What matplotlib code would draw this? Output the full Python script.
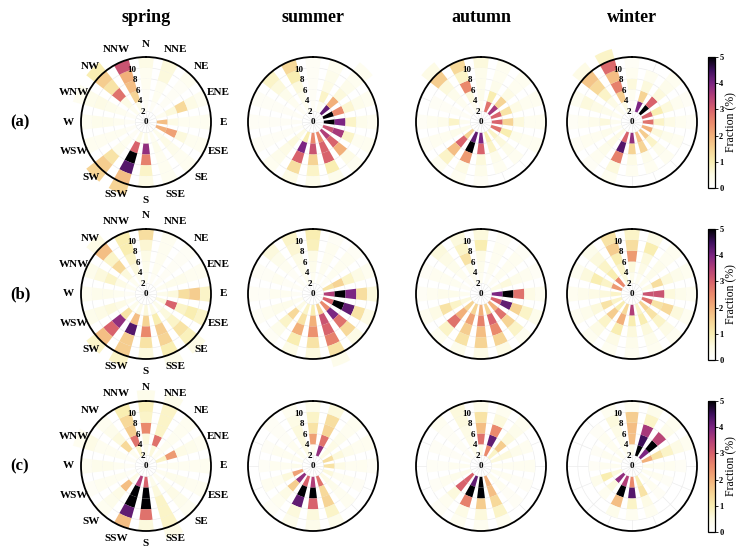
import numpy as np
import matplotlib.pyplot as plt
from matplotlib import colors, cm

plt.rcParams['font.family'] = ['Liberation Serif', 'DejaVu Serif']
plt.rcParams['font.weight'] = 'bold'

seasons = ['spring', 'summer', 'autumn', 'winter']
row_tags = ['(a)', '(b)', '(c)']
directions = ['N', 'NNE', 'NE', 'ENE', 'E', 'ESE', 'SE', 'SSE',
              'S', 'SSW', 'SW', 'WSW', 'W', 'WNW', 'NW', 'NNW']
speed_edges = [0, 2, 4, 6, 8, 10, 12, 14]
r_labels = [0, 2, 4, 6, 8, 10]

# fraction (%) per direction (rows, N clockwise) and speed bin (columns)
spring_a = [
    [0, .2, .2, .3, .3, .5, 0], [0, .2, .3, .3, .6, .6, 0], [0, .1, .2, .2, .2, .3, 0],
    [0, .3, .6, 1.4, .5, .3, 0], [0, 1.8, .5, .3, .3, .3, 0], [0, 2.0, 2.2, .6, .3, .3, 0],
    [0, .4, .5, .4, .3, .3, 0], [0, .3, .4, .3, .3, .3, 0], [0, .4, 3.8, 2.6, .8, .5, 0],
    [0, .5, 3.0, 5.0, 4.3, 1.8, 1.5], [0, .2, .3, .4, 1.2, 1.6, 1.5], [0, .2, .3, .3, .3, .3, 0],
    [0, .2, .3, .4, .4, .3, 0], [0, .2, .3, .4, .5, .4, .3], [0, .3, .5, 2.8, 1.2, 1.6, 1.0],
    [0, .4, 1.5, 1.8, 2.0, 3.2, 0]]
summer_a = [
    [0, .2, .2, .2, .2, .2, 0], [0, .3, .8, .5, .4, .3, 0], [0, 4.2, 2.0, .6, .4, .3, .3],
    [0, 5.0, 2.5, .7, .4, .3, 0], [0, 5.0, 4.0, .8, .4, .3, 0], [0, 3.2, 3.6, .8, .3, .3, 0],
    [0, 3.5, 3.0, 2.0, .5, .3, 0], [0, 2.5, 3.0, 3.0, 1.0, .4, 0], [0, 2.5, 3.2, 1.5, .8, .4, 0],
    [0, 1.0, 4.0, 3.0, 1.3, .5, 0], [0, .5, .6, .5, .4, .3, 0], [0, .2, .2, .2, .2, .2, 0],
    [0, .2, .2, .2, .2, .2, 0], [0, .2, .2, .2, .2, .2, 0], [0, .2, .3, .4, .6, .8, 0],
    [0, .3, .4, .6, 1.0, 1.4, 0]]
autumn_a = [
    [0, .3, .4, .4, .4, .6, 0], [0, 2.8, 1.0, .4, .3, .3, 0], [0, 3.6, 1.5, .5, .3, .3, 0],
    [0, 3.0, 1.2, .5, .3, .3, 0], [0, 3.0, 1.5, .6, .3, .3, 0], [0, 2.8, 1.0, .4, .3, .3, 0],
    [0, .8, .6, .4, .3, 0, 0], [0, 1.0, .8, .4, .3, 0, 0], [0, 4.0, 3.0, .6, .4, .2, 0],
    [0, 4.2, 5.0, 2.3, .5, .3, 0], [0, 1.5, 3.0, 1.8, .8, .3, 0], [0, .4, .4, .3, .3, .2, 0],
    [0, .3, .8, .4, .3, .2, 0], [0, .2, .2, .2, .2, 0, 0], [0, .2, .3, .4, .6, 1.6, .5],
    [0, .3, .6, 2.5, .8, 1.4, 0]]
winter_a = [
    [0, .2, .3, .6, .3, .2, 0], [0, 4.0, 1.5, .6, .3, 0, 0], [0, 5.0, 3.0, .6, .4, .3, 0],
    [0, 3.0, 1.0, .6, .3, .2, 0], [0, 2.8, .8, .5, .3, .2, 0], [0, 2.0, .6, .4, .3, 0, 0],
    [0, 1.6, .8, .4, .3, 0, 0], [0, 1.8, 1.5, .4, .3, 0, 0], [0, 3.8, 1.5, .5, .3, 0, 0],
    [0, 3.0, 4.3, 2.6, .6, .3, 0], [0, .5, .5, .4, .3, .2, 0], [0, .3, .4, .3, .3, .2, 0],
    [0, .3, .6, .4, .3, .2, 0], [0, .3, .4, .5, .6, .3, 0], [0, .3, .5, .8, 1.4, 1.7, .5],
    [0, .5, 1.6, 2.6, 1.8, 2.9, .8]]
spring_b = [
    [0, .3, .4, .5, .7, 1.3, 0], [0, .2, .3, .3, .3, .3, 0], [0, .2, .2, .2, .2, .2, 0],
    [0, .3, .4, .4, .3, .3, 0], [0, .4, .6, 1.3, 1.6, .8, 0], [0, .6, 3.0, .8, 1.0, .8, 0],
    [0, .4, .6, .8, 1.2, .9, .5], [0, .5, 1.0, 1.6, 1.5, 1.0, .4], [0, .6, 1.5, 2.5, 1.2, .6, 0],
    [0, .5, 1.8, 4.3, 1.6, 1.6, .8], [0, .4, 1.2, 3.8, 3.0, 1.8, .8], [0, .3, .5, .6, .5, .4, 0],
    [0, .2, .3, .4, .4, .3, 0], [0, .3, .5, .8, .6, .4, 0], [0, .3, .6, 1.4, .8, 1.8, .5],
    [0, .3, .6, .8, 1.0, 1.0, 0]]
summer_b = [
    [0, .3, .4, .5, .9, 1.0, 0], [0, .2, .3, .3, .3, .2, 0], [0, .2, .3, .3, .3, .2, 0],
    [0, 1.2, 1.5, .8, .5, .3, 0], [0, 3.5, 5.0, 4.0, 1.3, .6, 0], [0, 3.0, 5.0, 4.2, 1.2, .5, 0],
    [0, 2.5, 4.0, 2.8, 1.4, .5, 0], [0, 1.5, 3.2, 3.0, 2.6, 1.2, .4], [0, 1.0, 2.0, 2.4, 1.2, .6, 0],
    [0, .8, 1.2, 2.0, 1.0, .5, 0], [0, .5, 1.4, .8, .4, .2, 0], [0, .3, .4, .4, .3, .2, 0],
    [0, .2, .3, .3, .2, .2, 0], [0, .2, .2, .3, .2, .2, 0], [0, .2, .2, .3, .4, .6, 0],
    [0, .3, .4, .5, .7, .8, 0]]
autumn_b = [
    [0, .3, .4, .5, 1.0, .6, 0], [0, .2, .3, .3, .3, .2, 0], [0, .2, .3, .3, .3, .2, 0],
    [0, .5, .6, .4, .3, .2, 0], [0, 4.0, 5.0, 2.8, .5, .3, 0], [0, 3.0, 4.2, 1.5, .8, .4, 0],
    [0, 2.0, 2.8, 1.5, .8, .3, 0], [0, 1.5, 3.0, 2.5, 1.5, .5, 0], [0, 2.0, 2.6, 1.8, 1.5, .5, 0],
    [0, 1.5, 2.2, 1.6, 1.2, .4, 0], [0, 1.5, 2.0, 2.8, .8, .3, 0], [0, .6, .8, 1.2, .5, .3, 0],
    [0, .3, .4, .4, .3, .2, 0], [0, .2, .3, .3, .3, .2, 0], [0, .2, .3, .4, .5, .6, 0],
    [0, .3, .5, 1.2, .8, .6, 0]]
winter_b = [
    [0, .4, .6, 2.3, 1.3, .8, 0], [0, .3, .5, .6, 1.0, .5, 0], [0, .3, .4, .4, .3, .3, 0],
    [0, .5, 1.3, .6, .4, .3, 0], [0, 3.2, 3.2, .6, .4, .3, 0], [0, 2.8, 1.2, 1.4, .6, .3, 0],
    [0, 1.5, 1.2, .8, .5, .3, 0], [0, .8, 1.0, .6, .4, .3, 0], [0, 3.5, 1.0, .6, .4, .3, 0],
    [0, 1.4, 2.0, 1.0, .5, .3, 0], [0, 1.0, 1.6, .8, .5, .3, 0], [0, .8, 1.2, .6, .4, .3, 0],
    [0, .8, .6, .5, .4, .3, 0], [0, 2.3, .8, 1.0, .6, .3, 0], [0, 2.5, 1.0, .8, .6, .4, 0],
    [0, .6, .8, 1.0, 1.6, 1.2, 0]]
spring_c = [
    [0, .4, .6, 2.5, .8, .9, .4], [0, .6, 2.8, .8, .8, .8, .4], [0, .3, .3, .3, .3, .3, 0],
    [0, .8, 2.3, .5, .4, .3, 0], [0, .3, .3, .3, .3, .3, 0], [0, .3, .4, .4, .3, .3, 0],
    [0, .3, .4, .5, .4, .3, 0], [0, .4, .6, .8, .8, .8, .5], [0, 3.0, 5.0, 5.0, 2.8, .6, 0],
    [0, 3.5, 5.0, 5.0, 4.2, 1.8, 0], [0, .5, 1.8, .5, .4, .3, 0], [0, .2, .3, .3, .3, .2, 0],
    [0, .2, .3, .4, .4, .3, 0], [0, .2, .3, .3, .3, .5, .3], [0, .3, 1.4, .6, .4, .3, 0],
    [0, .8, 2.8, 1.6, 1.4, 1.0, 0]]
summer_c = [
    [0, .3, 2.2, 1.2, .8, .4, 0], [0, 3.8, 2.8, 1.5, 1.3, .6, 0], [0, .5, .5, .4, .3, .3, 0],
    [0, 1.3, .6, .4, .3, .3, 0], [0, 1.2, .5, .3, .3, .2, 0], [0, .6, .3, .3, .2, 0, 0],
    [0, .5, .4, .3, .3, 0, 0], [0, 2.8, 1.4, 1.5, .8, .4, 0], [0, 3.5, 5.0, 3.0, .6, .4, 0],
    [0, 3.0, 5.0, 4.2, .6, .4, 0], [0, 3.8, 1.6, .5, .3, .2, 0], [0, 2.2, .6, .3, .3, 0, 0],
    [0, .4, .3, .3, .2, 0, 0], [0, .3, .3, .3, .2, 0, 0], [0, .3, .3, .2, .2, .2, 0],
    [0, .5, .6, .6, .5, .3, 0]]
autumn_c = [
    [0, .5, 2.8, 1.8, 1.2, .4, 0], [0, 2.5, 4.2, 2.5, .6, .3, 0], [0, .8, 1.6, .6, .4, .3, 0],
    [0, .6, .6, .4, .3, 0, 0], [0, .3, .3, .3, .3, 0, 0], [0, .3, .3, .2, .2, 0, 0],
    [0, .3, .3, .2, .2, 0, 0], [0, 2.0, 1.8, 1.4, .8, .3, 0], [0, 5.0, 5.0, 1.6, .6, .3, 0],
    [0, 4.2, 5.0, 2.6, .5, .3, 0], [0, 3.0, 3.0, .6, .3, .2, 0], [0, .4, .4, .3, .2, 0, 0],
    [0, .3, .3, .2, .2, 0, 0], [0, .2, .2, .2, .2, 0, 0], [0, .2, .2, .2, .2, .3, 0],
    [0, .4, .5, .5, .6, .6, 0]]
winter_c = [
    [0, .4, 1.8, 1.8, 1.6, .3, 0], [0, 5.0, 4.5, 3.6, .8, .4, 0], [0, 4.0, 5.0, 3.4, .4, .3, 0],
    [0, 2.0, 1.2, .8, .5, .3, 0], [0, .4, .3, .3, .2, 0, 0], [0, .3, .3, .2, 0, 0, 0],
    [0, .3, .3, .2, 0, 0, 0], [0, 1.0, 1.2, .5, .3, 0, 0], [0, 2.5, 4.3, .8, .3, 0, 0],
    [0, 3.5, 5.0, 1.8, .4, 0, 0], [0, 3.8, .6, .3, 0, 0, 0], [0, .6, 1.0, .4, 0, 0, 0],
    [0, .3, .3, .2, 0, 0, 0], [0, .3, .3, .2, 0, 0, 0], [0, .3, .3, .3, .2, 0, 0],
    [0, .3, .4, .5, .6, .3, 0]]

panels = [[spring_a, summer_a, autumn_a, winter_a],
          [spring_b, summer_b, autumn_b, winter_b],
          [spring_c, summer_c, autumn_c, winter_c]]

# white -> pale yellow -> orange -> pink -> purple -> black
frac_cmap = colors.LinearSegmentedColormap.from_list('frac', [
    '#ffffff', '#fdfbe6', '#f9eeb2', '#f6d394', '#f2b07a', '#ea8a6c',
    '#d8626c', '#b23f78', '#7c2582', '#3d0f5c', '#000004'])
norm = colors.Normalize(0, 5)

W, H = 736, 550
fig = plt.figure(figsize=(W / 100, H / 100), dpi=100)

col_x = [146, 313, 481, 632]
row_y = [122, 294, 466]
rad = 65

theta = np.deg2rad(np.arange(16) * 22.5)
width = np.deg2rad(22.5) * 0.62
lab_angle = np.deg2rad(345)

for i, row in enumerate(panels):
    for j, data in enumerate(row):
        cx, cy = col_x[j], row_y[i]
        ax = fig.add_axes([(cx - rad) / W, 1 - (cy + rad) / H, 2 * rad / W, 2 * rad / H],
                          projection='polar')
        ax.set_theta_zero_location('N')
        ax.set_theta_direction(-1)
        ax.set_axisbelow(True)
        data = np.array(data)
        for k in range(len(speed_edges) - 1):
            vals = data[:, k]
            m = vals > 0
            ax.bar(theta[m], speed_edges[k + 1] - speed_edges[k], bottom=speed_edges[k],
                   width=width, color=frac_cmap(norm(vals[m])), edgecolor='none',
                   clip_on=False, zorder=2)
        ax.set_ylim(0, 12)
        ax.set_yticks([2, 4, 6, 8, 10, 12])
        ax.set_yticklabels([])
        for r in r_labels:
            ax.text(lab_angle, r, str(r), ha='center', va='center', fontsize=6.5,
                    fontweight='bold', zorder=5)
        ax.set_xticks(theta)
        ax.set_xticklabels([])
        ax.grid(color='#ececec', lw=0.5)
        ax.spines['polar'].set_linewidth(1.3)
        ax.spines['polar'].set_zorder(6)
        if j == 0:
            for t, d in zip(theta, directions):
                ax.text(t, 14.4, d, ha='center', va='center', fontsize=8,
                        fontweight='bold', clip_on=False)

    fig.text(20 / W, 1 - row_y[i] / H, row_tags[i], ha='center', va='center',
             fontsize=12, fontweight='bold')

    # one colour bar per row
    cax = fig.add_axes([708 / W, 1 - (row_y[i] + 66) / H, 7 / W, 131 / H])
    cb = fig.colorbar(cm.ScalarMappable(norm=norm, cmap=frac_cmap), cax=cax)
    cb.set_ticks(range(6))
    cb.ax.tick_params(labelsize=6, length=2, width=0.6, pad=1)
    cb.outline.set_linewidth(0.9)
    cb.set_label('Fraction (%)', fontsize=8.5, fontweight='normal', labelpad=1)

for j, s in enumerate(seasons):
    fig.text(col_x[j] / W, 1 - 18 / H, s, ha='center', va='center',
             fontsize=13, fontweight='bold')

fig.savefig('out.png', dpi=100)
